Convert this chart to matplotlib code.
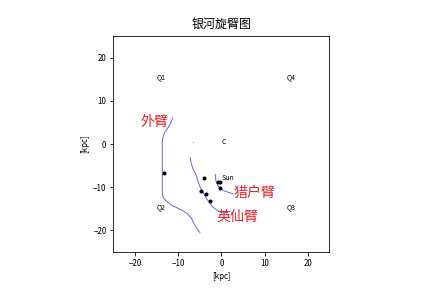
import matplotlib
matplotlib.use("Agg")
import matplotlib.pyplot as plt

plt.rcParams['font.family'] = ['Noto Sans CJK SC', 'DejaVu Sans']
plt.rcParams['axes.unicode_minus'] = True

# spiral arm traces (kpc)
outer_x = [-11.3, -11.7, -12.3, -13.1, -13.5, -13.7, -13.7, -13.7, -13.5, -12.8,
           -11.5, -9.2, -7.8, -6.9, -6.2, -5.0]
outer_y = [6.0, 5.0, 3.9, 2.8, 1.8, 0.6, -6.0, -11.5, -12.4, -13.2,
           -14.2, -15.3, -16.2, -17.3, -18.8, -20.5]
perseus_x = [-7.2, -7.05, -6.6, -6.0, -5.0, -3.5, -2.0, -1.0, 0.0, 1.4]
perseus_y = [-3.2, -4.4, -5.7, -6.9, -9.9, -12.6, -14.6, -15.4, -15.8, -15.9]
orion_x = [-1.45, -1.3, -0.9, -0.3, 0.7, 2.6]
orion_y = [-7.0, -8.5, -9.5, -10.3, -10.9, -11.5]

# objects
obj_x = [-13.3, -4.06, -4.8, -3.7, -2.7, -0.85, -0.46, -0.4]
obj_y = [-6.6, -7.95, -10.8, -11.5, -13.3, -8.9, -8.9, -10.3]
faint_x = [-6.7]
faint_y = [0.35]

quad_labels = ["Q1", "Q4", "Q2", "Q3"]
quad_x = [-15, 15, -15, 15]
quad_y = [15, 15, -15, -15]

fig = plt.figure(figsize=(6, 4), dpi=72)
ax = fig.add_axes([113/432, 36/288, 217/432, 216/288])

ax.plot(outer_x, outer_y, color='#4a52d6', lw=1, alpha=0.85)
ax.plot(perseus_x, perseus_y, color='#4a52d6', lw=1, alpha=0.85)
ax.plot(orion_x, orion_y, color='#4a52d6', lw=1, alpha=0.85)
ax.plot(faint_x, faint_y, 's', color='#4a52d6', ms=1.5, alpha=0.35, mew=0)
ax.scatter(obj_x, obj_y, s=9, color='black', zorder=3)

for lab, qx, qy in zip(quad_labels, quad_x, quad_y):
    ax.text(qx, qy, lab, fontsize=7)
ax.text(0, 0, "C", fontsize=7)
ax.text(0, -8.4, "Sun", fontsize=7)

ax.text(-12.2, 5.1, "外臂", color='#e8202a', fontsize=14, ha='right', va='center')
ax.text(2.8, -11.3, "猎户臂", color='#e8202a', fontsize=14, va='center')
ax.text(-1.2, -16.9, "英仙臂", color='#e8202a', fontsize=14, va='center')

ax.set_xlim(-25, 25)
ax.set_ylim(-25, 25)
ax.set_aspect('equal')
ax.set_xticks([-20, -10, 0, 10, 20])
ax.set_yticks([-20, -10, 0, 10, 20])
ax.tick_params(labelsize=8)
ax.set_xlabel('[kpc]', fontsize=8)
ax.set_ylabel('[kpc]', fontsize=8)
ax.set_title('银河旋臂图', fontsize=12, pad=8)

fig.savefig('out.png', dpi=72)
